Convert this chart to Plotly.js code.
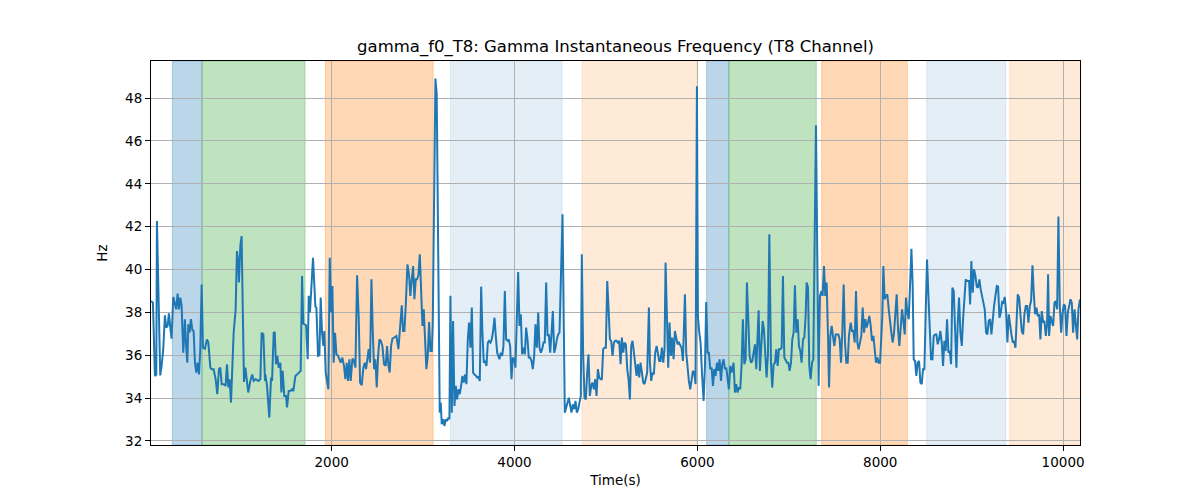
<!DOCTYPE html>
<html>
<head>
<meta charset="utf-8">
<script src="https://cdn.plot.ly/plotly-3.0.1.min.js"></script>
<style>html,body{margin:0;padding:0;background:#fff;}#chart{width:1200px;height:500px;}</style>
</head>
<body>
<div id="chart"></div>
<script>
// ---------- data ----------
const time1 = [24,45,67,82,89,125,140,158,176,191,206,220,235,249,268,286,300,315,330,344,359,377,395,406,421,432,446,461,476,490,505,519,534,549,563,578,592,614,636,651,673,687,709,731,749,767,782,797,818,840,855,870,884,899,913,928,950,964,979,986,1001,1015,1026,1041,1056,1070,1088,1110,1132,1147,1169,1198,1220,1234,1253,1271];
const hz1 = [38.53,38.45,35.03,35.1,42.26,35.06,35.5,36.28,37.86,37.29,37.37,37.95,37.3,36.77,38.72,38.45,38.14,38.87,38.14,38.69,38.3,36.12,37.68,36.59,35.65,37.44,37.05,37.68,37.18,37.13,35.65,35.19,35.65,35.1,36.28,39.3,36.35,36.3,36.74,36.59,35.42,35.35,35.35,34.88,34.18,35.35,35.42,34.65,34.65,34.57,35.58,34.5,34.88,33.79,35.35,37.05,38.14,40.86,40.32,39.39,41.1,41.56,38.6,34.75,35.42,34.88,34.26,34.8,35.1,34.8,34.88,34.8,34.88,37.05,36.97,34.8];

const time2 = [1275,1293,1318,1337,1348,1366,1377,1391,1406,1420,1439,1450,1464,1482,1501,1512,1530,1548,1566,1581,1603,1621,1639,1661,1676,1690,1705,1720,1738,1749,1763,1778,1796,1811,1822,1833,1851,1866,1880,1895,1909,1920,1935,1949,1964,1979,1993,2008,2022,2037,2052,2070,2084,2099,2117,2135,2150,2165,2179,2194,2208,2227,2241,2260,2278,2296,2311,2329,2347,2362,2376,2391,2405,2420,2435,2449,2464,2478,2493,2508,2522,2537];
const hz2 = [35.1,34.57,33.09,34.96,34.8,37.05,37.08,35.58,35.97,35.42,35.65,34.26,35.27,34.1,34.1,33.56,34.33,34.33,34.41,34.33,35.03,35.1,35.19,35.27,39.7,37.47,37.44,37.4,35.81,38.77,37.99,39.3,40.55,39.23,38.27,38.22,35.97,36.0,38.69,37.05,36.43,37.13,35.19,34.8,34.41,40.55,37.99,39.23,35.65,37.05,36.04,35.97,35.81,35.65,35.89,35.5,34.88,35.65,34.8,35.81,34.8,35.84,35.78,35.42,39.73,37.75,34.72,34.6,35.42,35.65,35.35,35.73,36.28,35.65,39.54,37.21,35.35,35.81,34.5,35.97,36.74,36.67];

const time3 = [2555,2573,2591,2606,2621,2635,2650,2664,2686,2708,2730,2745,2767,2781,2796,2810,2829,2847,2861,2876,2891,2905,2920,2934,2949,2964,2978,2993,3007,3022,3036,3051,3066,3080,3095,3106,3135,3149,3175,3182,3193,3204,3219,3233,3248,3263,3277,3288,3299,3314,3328,3343,3358,3372,3387,3401,3416,3430,3445,3460,3474,3489,3503,3518,3533,3547,3562,3576,3591,3606,3620,3635,3649,3664,3679,3693,3708,3722,3737,3751,3766,3781,3795,3810];
const hz3 = [36.43,35.58,35.5,36.43,35.5,35.19,36.43,36.77,36.82,36.9,36.28,37.29,38.33,37.13,37.13,38.3,40.24,39.7,38.77,39.54,40.16,38.61,39.54,39.54,39.73,40.71,38.61,37.37,38.14,36.74,35.35,35.97,37.55,36.2,36.2,37.52,48.91,48.2,33.79,33.32,33.79,32.78,33.01,32.7,33.01,32.93,33.09,33.01,38.77,33.32,37.6,33.63,34.57,33.94,34.41,34.18,34.57,35.03,34.72,35.1,34.65,36.74,37.52,36.35,38.22,35.19,35.1,35.06,34.96,34.99,34.8,39.2,37.05,35.65,35.73,35.5,36.59,36.67,36.59,36.74,37.13,37.75,36.9,36.12];

const time4 = [3835,3850,3865,3879,3894,3908,3923,3937,3952,3967,3981,3996,4010,4025,4040,4054,4069,4083,4098,4113,4127,4142,4156,4171,4186,4200,4215,4229,4244,4259,4273,4288,4302,4317,4331,4346,4361,4375,4390,4404,4419,4434,4448,4463,4477,4492,4507,4525,4550,4565,4580,4594,4609,4623,4638,4653,4667,4682,4696,4711,4725,4736,4751,4766,4780,4795,4809,4824,4839,4853,4868,4882,4897,4912,4926,4941,4955,4970,4984,4999,5014,5028,5043,5057,5072,5087,5101];
const hz4 = [35.81,36.12,35.97,36.43,39.0,36.74,36.67,36.74,36.43,34.88,35.89,35.81,35.42,37.21,39.88,37.37,37.91,36.04,36.35,36.04,37.29,36.74,35.89,35.89,35.73,35.35,35.97,37.44,36.35,37.99,36.35,36.12,36.28,36.59,36.59,39.39,36.9,36.97,36.12,36.97,38.06,36.12,36.35,36.74,36.97,37.05,39.62,42.58,33.32,33.63,33.79,34.02,33.56,33.32,33.71,33.48,33.87,33.32,33.48,33.79,34.1,40.71,35.97,34.02,33.94,35.19,36.04,34.1,34.57,34.72,34.41,34.88,34.1,35.35,34.96,34.88,34.88,36.28,36.35,36.35,39.46,38.22,36.74,36.67,35.97,36.59,36.67];

const time5 = [5116,5130,5145,5160,5174,5189,5203,5218,5233,5247,5262,5276,5291,5306,5320,5335,5349,5364,5378,5393,5408,5422,5437,5451,5470,5481,5495,5510,5524,5539,5554,5568,5583,5597,5612,5627,5641,5652,5667,5681,5696,5710,5725,5740,5754,5769,5783,5798,5813,5827,5842,5864,5878,5893,5907,5922,5937,5951,5966,5980,5995,6006,6021,6035,6050,6068,6083,6097,6112,6126,6141,6156,6170,6185,6199,6214,6228,6243,6258,6272,6287,6301,6316,6331,6345,6360,6374];
const hz5 = [36.67,36.59,36.67,35.58,36.82,36.12,36.59,36.51,35.35,34.88,33.94,36.43,36.67,36.04,35.35,35.03,35.58,34.96,35.65,35.19,34.72,34.65,34.88,35.19,38.22,35.65,34.8,35.19,35.1,36.12,36.43,36.04,35.73,35.73,36.35,35.65,36.28,40.32,37.05,35.42,37.52,35.97,36.82,35.81,37.13,36.82,36.51,36.59,36.43,36.35,35.73,38.84,36.12,35.19,34.8,34.41,35.03,35.27,35.19,34.65,48.55,37.8,37.05,36.59,35.19,33.87,35.5,38.48,36.12,36.12,35.35,35.42,34.57,35.35,35.03,35.65,35.27,35.81,34.8,35.58,35.81,35.35,35.42,34.88,34.41,35.5,35.19];

const time6 = [6396,6411,6425,6440,6455,6469,6484,6498,6513,6528,6542,6557,6571,6586,6601,6615,6630,6644,6659,6670,6684,6699,6714,6728,6743,6757,6772,6787,6805,6819,6834,6849,6863,6878,6892,6907,6922,6936,6951,6965,6980,6995,7009,7024,7038,7053,7067,7082,7097,7111,7126,7140,7155,7170,7184,7195,7210,7224,7239,7254,7268,7297,7326,7341,7356,7370,7385,7399,7414,7429,7440,7454,7469,7483,7498,7513,7527,7542,7556,7571,7585,7600,7615,7629,7644,7658];
const hz6 = [35.65,34.26,34.65,34.26,34.5,34.41,35.58,37.68,35.58,35.81,39.39,37.05,35.97,35.65,35.73,36.12,36.51,35.35,36.74,38.1,35.27,36.59,37.6,37.21,35.81,34.96,36.04,41.64,35.65,34.49,35.58,35.65,36.28,35.5,36.28,36.28,36.35,39.7,35.89,35.73,35.65,35.65,35.27,35.65,36.74,37.05,39.26,37.05,37.68,36.43,36.2,35.65,36.74,36.82,37.83,39.39,39.15,35.5,34.88,35.65,35.81,46.73,34.57,38.77,39.0,38.77,40.16,38.77,39.39,36.9,34.5,36.9,37.37,36.9,36.43,36.97,36.97,36.97,36.74,35.65,37.05,39.3,36.59,35.65,35.65,36.9];

const time7 = [7677,7691,7706,7721,7735,7750,7764,7779,7793,7808,7823,7837,7852,7866,7881,7896,7910,7925,7939,7954,7969,7983,7998,8012,8023,8034,8049,8063,8078,8093,8107,8122,8136,8151,8166,8180,8195,8209,8224,8239,8253,8268,8282,8297,8312,8326,8341,8355,8366,8381,8395,8410,8425,8439,8454,8468,8483,8498,8512,8527,8541,8556,8571,8585,8600,8614,8629,8643,8658,8673,8687,8702,8716,8731,8746,8760,8775,8789,8804,8819,8833,8848,8862,8877,8892,8906,8921];
const hz7 = [37.52,37.13,37.13,36.59,39.0,36.59,36.28,36.59,36.9,38.22,37.05,37.68,37.29,37.52,37.83,37.37,36.67,36.9,36.28,35.65,35.89,35.65,35.65,36.59,37.83,40.16,38.61,38.77,38.84,38.14,37.44,37.05,36.59,37.05,37.99,38.84,37.21,36.43,37.29,38.14,37.6,36.97,38.69,37.99,37.68,39.07,40.97,39.23,35.81,35.73,35.03,35.65,35.73,34.72,34.65,35.35,35.35,38.14,40.47,38.77,37.52,35.81,35.81,36.9,36.97,36.97,36.51,36.74,37.13,36.59,35.5,36.67,36.2,37.68,36.12,36.2,35.58,39.15,39.0,36.59,35.42,37.52,38.69,37.05,36.43,37.68,38.53];

const time8 = [8935,8953,8972,8983,8997,9012,9026,9041,9056,9070,9085,9099,9114,9129,9143,9158,9172,9187,9202,9216,9231,9245,9260,9275,9289,9304,9318,9333,9347,9362,9377,9391,9406,9420,9435,9450,9464,9479,9493,9504,9519,9534,9548,9563,9577,9592,9606,9621,9636,9650,9665,9679,9694,9709,9723,9738,9752,9767,9782,9796,9811,9825,9836,9847,9862,9876,9891,9906,9920,9935,9949,9964,9979,9993,10008,10022,10037,10052,10066,10081,10095,10110,10125,10139,10154,10168,10185];
const hz8 = [39.54,39.46,39.46,38.37,40.4,38.92,40.01,39.7,39.2,39.15,39.54,39.07,38.77,38.53,38.14,37.05,36.97,37.6,37.68,36.97,37.83,38.3,38.77,39.23,39.2,37.75,37.99,38.48,38.45,38.72,37.99,36.59,37.91,37.37,36.97,36.59,36.67,36.35,37.68,38.84,38.69,37.68,37.13,36.97,37.91,38.3,38.3,37.52,38.3,38.53,40.2,38.92,37.91,38.22,37.83,37.91,36.74,38.06,37.52,37.6,36.9,37.44,39.78,36.9,37.83,37.6,37.37,38.45,38.53,38.14,42.47,38.3,37.05,37.91,38.37,38.3,36.9,37.99,38.3,38.61,38.45,37.05,38.14,37.6,36.74,38.14,38.6];

// shaded phases (time in s)
const phaseStart = [257, 582, 1931, 3299, 4740, 6101, 6345, 7359, 8508, 9417];
const phaseEnd   = [582, 1709, 3110, 4521, 5999, 6345, 7301, 8297, 9373, 10300];
const phaseKind  = ['blueDark','green','orangeDark','blueLight','orangeLight','blueDark','green','orangeDark','blueLight','orangeLight'];

const xTicks = [2000, 4000, 6000, 8000, 10000];
const yTicks = [32, 34, 36, 38, 40, 42, 44, 46, 48];
const xRange = [24, 10185];
const yRange = [31.81, 49.73];

// ---------- styles ----------
const kindFill = {
  blueDark: 'rgba(31,119,180,0.3)',
  green: 'rgba(44,160,44,0.3)',
  orangeDark: 'rgba(255,127,14,0.3)',
  blueLight: 'rgba(31,119,180,0.12)',
  orangeLight: 'rgba(255,127,14,0.16)'
};

const time = [].concat(time1, time2, time3, time4, time5, time6, time7, time8);
const hz = [].concat(hz1, hz2, hz3, hz4, hz5, hz6, hz7, hz8);

const shapes = phaseStart.map((s, i) => ({
  type: 'rect', xref: 'x', yref: 'paper', x0: s, x1: phaseEnd[i], y0: 0, y1: 1,
  fillcolor: kindFill[phaseKind[i]],
  line: {color: kindFill[phaseKind[i]], width: 1},
  layer: 'below'
}));

const font = 'DejaVu Sans, Liberation Sans, sans-serif';

const trace = {
  x: time, y: hz, type: 'scatter', mode: 'lines',
  line: {color: '#1f77b4', width: 2},
  hoverinfo: 'skip'
};

const axisCommon = {
  showline: true, linecolor: '#000', linewidth: 1, mirror: true,
  ticks: 'outside', ticklen: 5, tickwidth: 1, tickcolor: '#000',
  showgrid: true, gridcolor: '#b0b0b0', gridwidth: 1,
  zeroline: false,
  tickfont: {family: font, size: 13.5, color: '#000'}
};

const layout = {
  width: 1200, height: 500,
  margin: {l: 151, r: 120, t: 61, b: 55, pad: 0},
  paper_bgcolor: '#fff', plot_bgcolor: 'rgba(0,0,0,0)',
  showlegend: false,
  title: {text: 'gamma_f0_T8: Gamma Instantaneous Frequency (T8 Channel)',
          font: {family: font, size: 16.5, color: '#000'},
          x: 0.5, xref: 'paper', xanchor: 'center', y: 0.908, yanchor: 'middle'},
  xaxis: Object.assign({}, axisCommon, {
    range: xRange, tickvals: xTicks, ticktext: xTicks.map(String),
    title: {text: 'Time(s)', font: {family: font, size: 13.5, color: '#000'}, standoff: 6}
  }),
  yaxis: Object.assign({}, axisCommon, {
    range: yRange, tickvals: yTicks, ticktext: yTicks.map(String),
    title: {text: 'Hz', font: {family: font, size: 13.5, color: '#000'}, standoff: 14}
  }),
  shapes: shapes
};

Plotly.newPlot('chart', [trace], layout, {staticPlot: true, displayModeBar: false});
</script>
</body>
</html>
